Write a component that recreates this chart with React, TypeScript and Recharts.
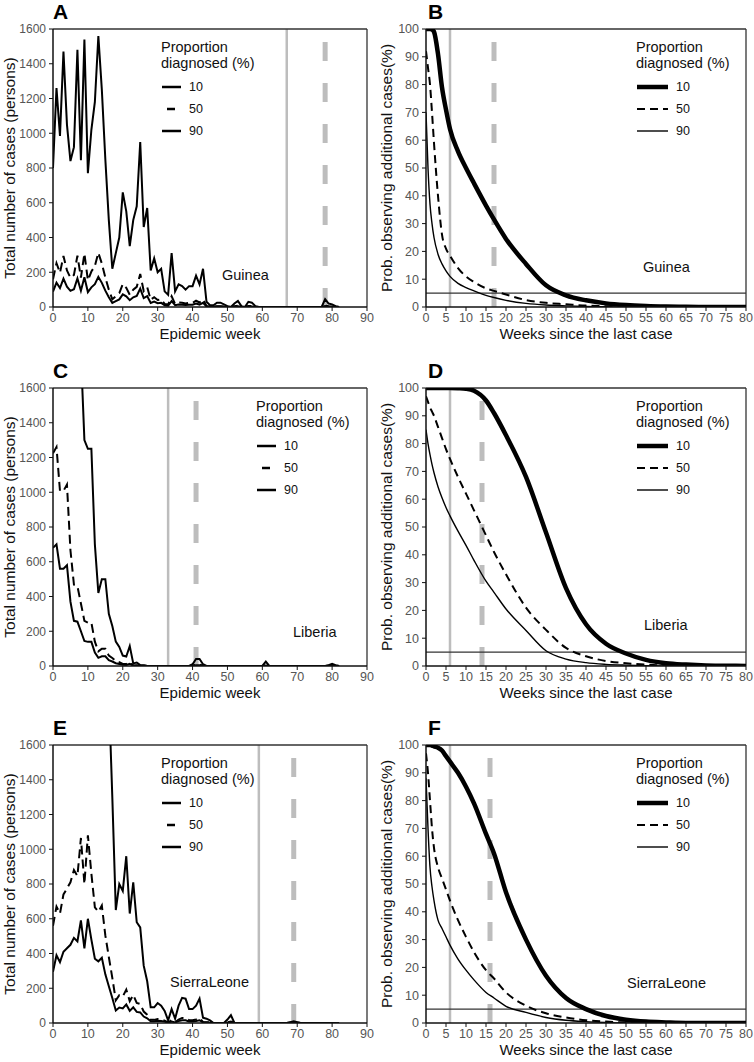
import React from "react"
import { LineChart, Line, XAxis, YAxis, ReferenceLine } from "recharts"

const FONT = '"Liberation Sans", Arial, sans-serif'

// estimated total cases per epidemic week (index = week), by proportion diagnosed
const guineaCases10 = [
  800, 1260, 985, 1470, 1050, 840, 920, 1480, 845, 1540,
  770, 1020, 1180, 1560, 1250, 850, 500, 220, 310, 400,
  660, 550, 350, 500, 580, 950, 460, 570, 210, 280,
  200, 220, 90, 70, 310, 90, 130, 120, 100, 120,
  120, 180, 130, 220, 30, 10, 10, 25, 25, 15,
  5, 0, 20, 35, 5, 0, 30, 25, 5, 0,
  0, 0, 0, 0, 0, 0, 0, 0, 0, 0,
  0, 0, 0, 0, 0, 0, 0, 0, 45, 20,
  15, 5, 0,
]
const guineaCases50 = [
  160, 252, 197, 294, 210, 168, 184, 296, 169, 308,
  154, 204, 236, 312, 250, 170, 100, 44, 62, 80,
  132, 110, 70, 100, 116, 190, 92, 114, 42, 56,
  40, 44, 18, 14, 62, 18, 26, 24, 20, 24,
  24, 36, 26, 44, 6, 2, 2, 5, 5, 3,
  1, 0, 4, 7, 1, 0, 6, 5, 1, 0,
  0, 0, 0, 0, 0, 0, 0, 0, 0, 0,
  0, 0, 0, 0, 0, 0, 0, 0, 9, 4,
  3, 1, 0,
]
const guineaCases90 = [
  89, 140, 109, 163, 117, 93, 102, 164, 94, 171,
  86, 113, 131, 173, 139, 94, 56, 24, 34, 44,
  73, 61, 39, 56, 64, 106, 51, 63, 23, 31,
  22, 24, 10, 8, 34, 10, 14, 13, 11, 13,
  13, 20, 14, 24, 3, 1, 1, 3, 3, 2,
  1, 0, 2, 4, 1, 0, 3, 3, 1, 0,
  0, 0, 0, 0, 0, 0, 0, 0, 0, 0,
  0, 0, 0, 0, 0, 0, 0, 0, 5, 2,
  2, 1, 0,
]

const liberiaCases10 = [
  6120, 6300, 5040, 5040, 5220, 3330, 2340, 2295, 1800, 1300,
  1250, 1250, 700, 420, 500, 500, 300, 230, 140, 110,
  60, 55, 115, 15, 20, 5, 5, 0, 0, 0,
  0, 0, 0, 0, 0, 0, 0, 0, 0, 0,
  10, 40, 40, 10, 0, 0, 0, 0, 0, 0,
  0, 0, 0, 0, 0, 0, 0, 0, 0, 0,
  0, 25, 0, 0, 0, 0, 0, 0, 0, 0,
  0, 0, 0, 0, 0, 0, 0, 0, 0, 5,
  12, 5, 0,
]
const liberiaCases50 = [
  1224, 1260, 1008, 1008, 1044, 666, 468, 459, 360, 260,
  250, 250, 140, 84, 100, 100, 60, 46, 28, 22,
  12, 11, 23, 3, 4, 1, 1, 0, 0, 0,
  0, 0, 0, 0, 0, 0, 0, 0, 0, 0,
  2, 8, 8, 2, 0, 0, 0, 0, 0, 0,
  0, 0, 0, 0, 0, 0, 0, 0, 0, 0,
  0, 5, 0, 0, 0, 0, 0, 0, 0, 0,
  0, 0, 0, 0, 0, 0, 0, 0, 0, 1,
  2, 1, 0,
]
const liberiaCases90 = [
  680, 700, 560, 560, 580, 370, 260, 255, 200, 144,
  139, 139, 78, 47, 56, 56, 33, 26, 16, 12,
  7, 6, 13, 2, 2, 1, 1, 0, 0, 0,
  0, 0, 0, 0, 0, 0, 0, 0, 0, 0,
  1, 4, 4, 1, 0, 0, 0, 0, 0, 0,
  0, 0, 0, 0, 0, 0, 0, 0, 0, 0,
  0, 3, 0, 0, 0, 0, 0, 0, 0, 0,
  0, 0, 0, 0, 0, 0, 0, 0, 0, 1,
  1, 1, 0,
]

const sierraCases10 = [
  2650, 3500, 3150, 3700, 3870, 4050, 4400, 4230, 5300, 3870,
  5400, 4320, 3330, 3200, 3380, 2520, 1900, 1300, 650, 800,
  760, 960, 630, 810, 580, 550, 330, 240, 90, 90,
  115, 100, 70, 15, 80, 25, 100, 145, 140, 80,
  80, 100, 140, 30, 25, 15, 0, 0, 0, 0,
  20, 45, 0, 0, 0, 0, 0, 0, 0, 0,
  0, 0, 0, 0, 0, 0, 0, 0, 5, 10,
  5, 0, 0, 0, 0, 0, 0, 0, 0, 0,
  0, 0, 0,
]
const sierraCases50 = [
  560, 670, 630, 740, 774, 810, 880, 846, 1065, 800,
  1080, 860, 666, 640, 676, 504, 380, 260, 130, 160,
  152, 192, 126, 162, 116, 110, 66, 48, 18, 18,
  23, 20, 14, 3, 16, 5, 20, 29, 28, 16,
  16, 20, 28, 6, 5, 3, 0, 0, 0, 0,
  4, 9, 0, 0, 0, 0, 0, 0, 0, 0,
  0, 0, 0, 0, 0, 0, 0, 0, 1, 2,
  1, 0, 0, 0, 0, 0, 0, 0, 0, 0,
  0, 0, 0,
]
const sierraCases90 = [
  295, 390, 350, 410, 430, 450, 490, 470, 590, 430,
  600, 480, 370, 355, 375, 280, 211, 144, 72, 89,
  84, 107, 70, 90, 64, 61, 37, 27, 10, 10,
  13, 11, 8, 2, 9, 3, 11, 16, 16, 9,
  9, 11, 16, 3, 3, 2, 0, 0, 0, 0,
  2, 5, 0, 0, 0, 0, 0, 0, 0, 0,
  0, 0, 0, 0, 0, 0, 0, 0, 1, 1,
  1, 0, 0, 0, 0, 0, 0, 0, 0, 0,
  0, 0, 0,
]

// probability (%) of seeing more cases, read at these weeks since the last case
const probWeeks = [0, 0.5, 1, 1.5, 2, 3, 4, 5, 6, 8, 10, 12, 15, 17, 20, 25, 30, 35, 40, 45, 50, 55, 60, 65, 70, 75, 80]

const guineaProb10 = [100, 100, 100, 99.8, 99, 91, 79, 71, 64, 56, 50, 44.5, 36.5, 31.5, 24.5, 15.5, 7.8, 4.2, 2.4, 1.3, 0.7, 0.35, 0.15, 0.05, 0, 0, 0]
const guineaProb50 = [92, 86, 80, 70, 59, 40, 26, 21, 18.5, 14, 11, 9, 6.7, 5.8, 4.5, 2.5, 1.5, 1, 0.5, 0.3, 0.1, 0, 0, 0, 0, 0, 0]
const guineaProb90 = [70, 50, 37, 30, 25, 19, 15.5, 13, 11, 8.5, 7, 5.8, 4.2, 3.4, 2.4, 1.3, 0.7, 0.4, 0.2, 0.1, 0, 0, 0, 0, 0, 0, 0]

const liberiaProb10 = [100, 100, 100, 100, 100, 100, 100, 100, 100, 99.9, 99.7, 99, 95.5, 91, 83, 68, 48, 28, 15, 8, 4.5, 2.2, 1, 0.5, 0.2, 0.1, 0]
const liberiaProb50 = [97, 95, 93, 91.5, 90, 86, 82, 78, 74.5, 68, 62, 56, 47, 41, 33, 21, 13, 6.5, 3.5, 1.8, 1, 0.5, 0.2, 0, 0, 0, 0]
const liberiaProb90 = [85, 80, 76, 72.5, 69.5, 64.5, 60.5, 57, 54, 48.5, 43.4, 38, 30.5, 26.5, 20.5, 12.8, 5.5, 2.5, 1.2, 0.6, 0.3, 0.1, 0, 0, 0, 0, 0]

const sierraProb10 = [100, 100, 100, 99.8, 99.5, 99, 98, 96, 94, 90, 85, 79, 68, 61, 47, 30, 17, 9, 5, 2.5, 1.2, 0.5, 0.2, 0, 0, 0, 0]
const sierraProb50 = [97, 90, 80, 70, 63, 56, 52, 48, 44, 37, 31, 25.5, 19, 16, 11, 6.2, 3.5, 2, 1, 0.5, 0.2, 0, 0, 0, 0, 0, 0]
const sierraProb90 = [88, 70, 56, 49, 44, 37, 34, 31, 28, 23, 19, 15.5, 11, 9, 6, 3.8, 2, 1, 0.5, 0.2, 0, 0, 0, 0, 0, 0, 0]

const weekTicks = [0, 10, 20, 30, 40, 50, 60, 70, 80, 90]
const caseTicks = [0, 200, 400, 600, 800, 1000, 1200, 1400, 1600]
const sinceTicks = [0, 5, 10, 15, 20, 25, 30, 35, 40, 45, 50, 55, 60, 65, 70, 75, 80]
const probTicks = [0, 10, 20, 30, 40, 50, 60, 70, 80, 90, 100]
const legendLabels = ["10", "50", "90"]

const weeklyRows = (p10: number[], p50: number[], p90: number[]) =>
  p10.map((v, i) => ({ week: i, p10: v, p50: p50[i], p90: p90[i] }))
const probRows = (p10: number[], p50: number[], p90: number[]) =>
  probWeeks.map((w, i) => ({ week: w, p10: p10[i], p50: p50[i], p90: p90[i] }))

type PanelProps = {
  kind: "cases" | "prob"
  letter: string
  left: number
  top: number
  rows: any[]
  solidX: number
  dashX: number
  country: string
  countryX: number
  countryY: number
  legendX: number
}

function Panel({ kind, letter, left, top, rows, solidX, dashX, country, countryX, countryY, legendX }: PanelProps) {
  const cases = kind === "cases"
  const width = cases ? 375 : 379
  const height = 345
  const xMax = cases ? 90 : 80
  const yMax = cases ? 1600 : 100
  const xTick = { fill: "#555", fontSize: 12.5, fontFamily: FONT }
  const yTick = { fill: "#555", fontSize: 12, fontFamily: FONT }
  const styles = cases
    ? [
        { key: "p10", w: 2, dash: undefined },
        { key: "p50", w: 2, dash: "9 5" },
        { key: "p90", w: 2, dash: undefined },
      ]
    : [
        { key: "p10", w: 4.5, dash: undefined },
        { key: "p50", w: 2, dash: "8 5" },
        { key: "p90", w: 1.4, dash: undefined },
      ]
  const sampleEnd = cases ? legendX + 19 : legendX + 31

  return (
    <div style={{ position: "absolute", left, top, width, height }}>
      <LineChart width={width} height={height} data={rows} margin={{ top: 29, right: 8, bottom: 0, left: 0 }}>
        <XAxis
          dataKey="week"
          type="number"
          domain={[0, xMax]}
          ticks={cases ? weekTicks : sinceTicks}
          interval={0}
          allowDataOverflow
          height={38}
          tick={xTick}
          tickSize={4}
          axisLine={{ stroke: "#111", strokeWidth: 1.5 }}
          tickLine={{ stroke: "#111" }}
          label={{
            value: cases ? "Epidemic week" : "Weeks since the last case",
            position: "insideBottom",
            offset: 6,
            fill: "#111",
            fontSize: 15,
            fontFamily: FONT,
          }}
        />
        <YAxis
          type="number"
          domain={[0, yMax]}
          ticks={cases ? caseTicks : probTicks}
          interval={0}
          allowDataOverflow
          width={cases ? 53 : 51}
          tick={cases ? yTick : xTick}
          tickSize={4}
          tickMargin={3}
          axisLine={{ stroke: "#111", strokeWidth: 1.5 }}
          tickLine={{ stroke: "#111" }}
          label={{
            value: cases ? "Total number of cases (persons)" : "Prob. observing additional cases(%)",
            angle: -90,
            position: "insideLeft",
            offset: cases ? 9 : 11,
            fill: "#111",
            fontSize: 15.5,
            fontFamily: FONT,
            style: { textAnchor: "middle" },
          }}
        />
        <ReferenceLine x={solidX} stroke="#bdbdbd" strokeWidth={2.5} />
        <ReferenceLine x={dashX} stroke="#bdbdbd" strokeWidth={5} strokeDasharray="19 22" />
        {!cases && <ReferenceLine y={5} stroke="#333" strokeWidth={1.2} />}
        <ReferenceLine y={yMax} stroke="#333" strokeWidth={1.3} />
        <ReferenceLine x={xMax} stroke="#333" strokeWidth={1.3} />
        {styles.map((s) => (
          <Line
            key={s.key}
            dataKey={s.key}
            type={cases ? "linear" : "monotone"}
            stroke="#000"
            strokeWidth={s.w}
            strokeDasharray={s.dash}
            dot={false}
            isAnimationActive={false}
          />
        ))}
      </LineChart>
      <svg width={width} height={height} style={{ position: "absolute", left: 0, top: 0, pointerEvents: "none" }}>
        <text x={53} y={19} fontSize={21} fontWeight="bold" fontFamily={FONT} fill="#000">
          {letter}
        </text>
        <g fontFamily={FONT} fill="#111">
          <text x={legendX - 1} y={47} fontSize={14.5} dominantBaseline="central">Proportion</text>
          <text x={legendX - 1} y={63} fontSize={14.5} dominantBaseline="central">diagnosed (%)</text>
          {legendLabels.map((lab, i) => {
            const y = 87 + i * 22
            const s = styles[i]
            const x1 = cases && i === 1 ? legendX + 5 : legendX
            const x2 = cases && i === 1 ? legendX + 13 : sampleEnd
            return (
              <g key={lab}>
                <line x1={x1} x2={x2} y1={y} y2={y} stroke="#000" strokeWidth={cases ? 2.5 : s.w} strokeDasharray={cases ? undefined : s.dash} />
                <text x={sampleEnd + 8} y={y} fontSize={12.5} dominantBaseline="central">{lab}</text>
              </g>
            )
          })}
          <text x={countryX} y={countryY} fontSize={14.5} dominantBaseline="central">{country}</text>
        </g>
      </svg>
    </div>
  )
}

export default function App() {
  return (
    <div style={{ position: "absolute", left: 0, top: 0, width: 754, height: 1062, background: "#fff" }}>
      <Panel kind="cases" letter="A" left={0} top={0} rows={weeklyRows(guineaCases10, guineaCases50, guineaCases90)}
        solidX={67} dashX={78} country="Guinea" countryX={222} countryY={275} legendX={162} />
      <Panel kind="prob" letter="B" left={375} top={0} rows={probRows(guineaProb10, guineaProb50, guineaProb90)}
        solidX={6} dashX={17} country="Guinea" countryX={268} countryY={267} legendX={262} />
      <Panel kind="cases" letter="C" left={0} top={359} rows={weeklyRows(liberiaCases10, liberiaCases50, liberiaCases90)}
        solidX={33} dashX={41} country="Liberia" countryX={293} countryY={273} legendX={257} />
      <Panel kind="prob" letter="D" left={375} top={359} rows={probRows(liberiaProb10, liberiaProb50, liberiaProb90)}
        solidX={6} dashX={14} country="Liberia" countryX={269} countryY={266} legendX={262} />
      <Panel kind="cases" letter="E" left={0} top={716} rows={weeklyRows(sierraCases10, sierraCases50, sierraCases90)}
        solidX={59} dashX={69} country="SierraLeone" countryX={170} countryY={266} legendX={162} />
      <Panel kind="prob" letter="F" left={375} top={716} rows={probRows(sierraProb10, sierraProb50, sierraProb90)}
        solidX={6} dashX={16} country="SierraLeone" countryX={252} countryY={267} legendX={262} />
    </div>
  )
}
